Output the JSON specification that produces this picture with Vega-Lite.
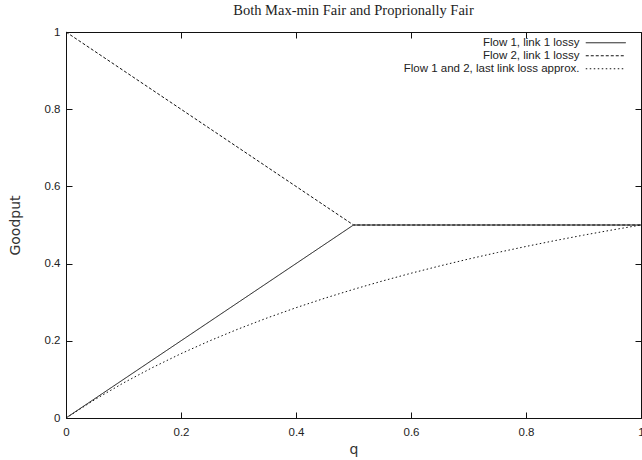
{
  "$schema": "https://vega.github.io/schema/vega-lite/v6.json",
  "width": 575,
  "height": 386,
  "autosize": {"type": "none"},
  "padding": {"left": 66, "top": 32, "right": 1, "bottom": 42},
  "background": "white",
  "title": {
    "text": "Both Max-min Fair and Proprionally Fair",
    "font": "Liberation Serif",
    "fontSize": 14.5,
    "fontWeight": "normal",
    "color": "#222",
    "anchor": "middle",
    "offset": 8
  },
  "config": {
    "view": {"stroke": "#111", "strokeWidth": 1},
    "axis": {
      "domain": false,
      "grid": false,
      "tickColor": "#111",
      "tickWidth": 1,
      "labelFont": "Liberation Sans",
      "labelFontSize": 11.5,
      "labelColor": "#222",
      "titleFont": "DejaVu Sans",
      "titleFontSize": 14,
      "titleFontWeight": "normal",
      "titleColor": "#333"
    },
    "legend": {
      "labelFont": "Liberation Sans",
      "labelFontSize": 11.5,
      "labelColor": "#222"
    }
  },
  "data": {
    "values": [
      {"q": 0, "goodput": 0, "series": "Flow 1, link 1 lossy"},
      {"q": 0.5, "goodput": 0.5, "series": "Flow 1, link 1 lossy"},
      {"q": 1, "goodput": 0.5, "series": "Flow 1, link 1 lossy"},
      {"q": 0, "goodput": 1, "series": "Flow 2, link 1 lossy"},
      {"q": 0.5, "goodput": 0.5, "series": "Flow 2, link 1 lossy"},
      {"q": 1, "goodput": 0.5, "series": "Flow 2, link 1 lossy"},
      {"q": 0, "goodput": 0, "series": "Flow 1 and 2, last link loss approx."},
      {"q": 0.05, "goodput": 0.0476, "series": "Flow 1 and 2, last link loss approx."},
      {"q": 0.1, "goodput": 0.0909, "series": "Flow 1 and 2, last link loss approx."},
      {"q": 0.15, "goodput": 0.1304, "series": "Flow 1 and 2, last link loss approx."},
      {"q": 0.2, "goodput": 0.1667, "series": "Flow 1 and 2, last link loss approx."},
      {"q": 0.25, "goodput": 0.2, "series": "Flow 1 and 2, last link loss approx."},
      {"q": 0.3, "goodput": 0.2308, "series": "Flow 1 and 2, last link loss approx."},
      {"q": 0.35, "goodput": 0.2593, "series": "Flow 1 and 2, last link loss approx."},
      {"q": 0.4, "goodput": 0.2857, "series": "Flow 1 and 2, last link loss approx."},
      {"q": 0.45, "goodput": 0.3103, "series": "Flow 1 and 2, last link loss approx."},
      {"q": 0.5, "goodput": 0.3333, "series": "Flow 1 and 2, last link loss approx."},
      {"q": 0.55, "goodput": 0.3548, "series": "Flow 1 and 2, last link loss approx."},
      {"q": 0.6, "goodput": 0.375, "series": "Flow 1 and 2, last link loss approx."},
      {"q": 0.65, "goodput": 0.3939, "series": "Flow 1 and 2, last link loss approx."},
      {"q": 0.7, "goodput": 0.4118, "series": "Flow 1 and 2, last link loss approx."},
      {"q": 0.75, "goodput": 0.4286, "series": "Flow 1 and 2, last link loss approx."},
      {"q": 0.8, "goodput": 0.4444, "series": "Flow 1 and 2, last link loss approx."},
      {"q": 0.85, "goodput": 0.4595, "series": "Flow 1 and 2, last link loss approx."},
      {"q": 0.9, "goodput": 0.4737, "series": "Flow 1 and 2, last link loss approx."},
      {"q": 0.95, "goodput": 0.4872, "series": "Flow 1 and 2, last link loss approx."},
      {"q": 1, "goodput": 0.5, "series": "Flow 1 and 2, last link loss approx."}
    ]
  },
  "layer": [
    {
      "mark": {"type": "line", "color": "#111", "strokeWidth": 1},
      "encoding": {
        "x": {
          "field": "q", "type": "quantitative",
          "scale": {"domain": [0, 1], "nice": false},
          "axis": {"title": "q", "values": [0, 0.2, 0.4, 0.6, 0.8, 1], "format": "~g", "tickSize": -6, "labelPadding": 14, "titlePadding": 5, "labelFlush": false}
        },
        "y": {
          "field": "goodput", "type": "quantitative",
          "scale": {"domain": [0, 1], "nice": false},
          "axis": {"title": "Goodput", "values": [0, 0.2, 0.4, 0.6, 0.8, 1], "format": "~g", "tickSize": -6, "labelPadding": 12, "titlePadding": 22, "labelFlush": false}
        },
        "strokeDash": {
          "field": "series", "type": "nominal",
          "scale": {
            "domain": ["Flow 1, link 1 lossy", "Flow 2, link 1 lossy", "Flow 1 and 2, last link loss approx."],
            "range": [[1, 0], [3, 2], [1.5, 2.5]]
          },
          "legend": {
            "title": null,
            "orient": "none",
            "legendX": 534,
            "legendY": 5,
            "padding": 0,
            "symbolType": "M-5,0H5",
            "symbolSize": 64,
            "symbolStrokeWidth": 1,
            "symbolStrokeColor": "#111",
            "symbolFillColor": "transparent",
            "labelAlign": "right",
            "labelOffset": -32,
            "rowPadding": 0,
            "labelLimit": 400
          }
        }
      }
    },
    {
      "mark": {"type": "rule", "opacity": 0},
      "encoding": {
        "x": {
          "field": "q", "type": "quantitative",
          "axis": {"orient": "top", "title": null, "labels": false, "values": [0, 0.2, 0.4, 0.6, 0.8, 1], "tickSize": -6}
        },
        "y": {
          "field": "goodput", "type": "quantitative",
          "axis": {"orient": "right", "title": null, "labels": false, "values": [0, 0.2, 0.4, 0.6, 0.8, 1], "tickSize": -6}
        }
      }
    }
  ],
  "resolve": {"axis": {"x": "independent", "y": "independent"}}
}
